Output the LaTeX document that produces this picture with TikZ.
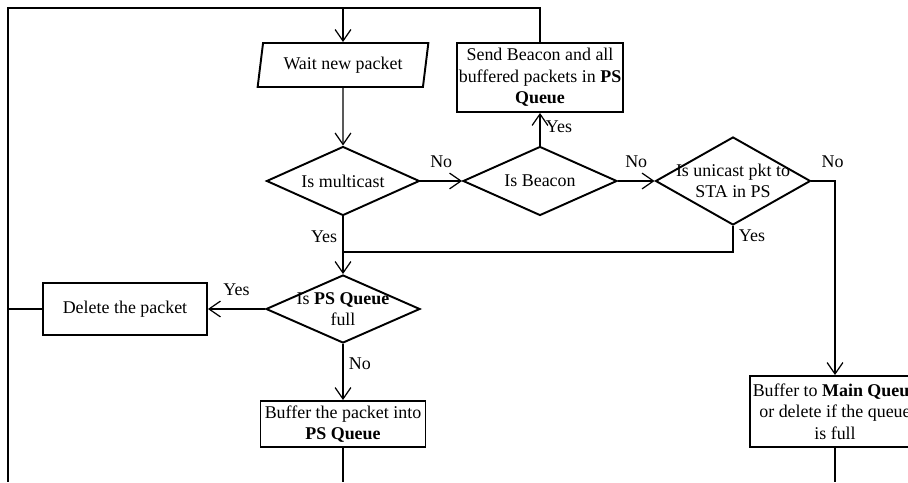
\documentclass[tikz,border=0pt]{standalone}
\usepackage{fontspec}
\setmainfont{Liberation Serif}
\usetikzlibrary{shapes.geometric,arrows.meta}

\begin{document}
\begin{tikzpicture}[every node/.style={font=\fontsize{10.2}{12.2}\selectfont},
  process/.style={draw, line width=1.1pt, minimum width=3.3cm, minimum height=0.92cm, align=center, inner sep=1pt},
  decision/.style={diamond, draw, line width=1.1pt, inner sep=0pt},
  io/.style={trapezium, trapezium left angle=81, trapezium right angle=99, trapezium stretches=true, draw, line width=1.1pt, minimum width=3.44cm, minimum height=0.88cm},
  flow/.style={line width=0.7pt, -{Straight Barb[length=6.5pt,width=9pt]}},
  link/.style={line width=0.7pt},
  tag/.style={inner sep=3pt}]
\clip (0,0) rectangle (18.16,9.64);

\node[io] (wait) at (6.86,8.34) {Wait new packet};
\node[decision, minimum width=3.06cm, minimum height=1.38cm, label={center:Is multicast}] (mcast) at (6.86,6.02) {};
\node[decision, minimum width=3.08cm, minimum height=1.38cm, label={center:Is Beacon}] (beacon) at (10.80,6.02) {};
\node[decision, minimum width=3.1cm, minimum height=1.76cm, label={[align=center]center:Is unicast pkt to\\STA in PS}] (ucast) at (14.66,6.02) {};
\node[decision, minimum width=3.08cm, minimum height=1.36cm, label={[align=center]center:Is \textbf{PS Queue}\\full}] (psfull) at (6.86,3.46) {};

\node[process, minimum width=3.32cm, minimum height=1.38cm] (send) at (10.80,8.09) {Send Beacon and all\\buffered packets in \textbf{PS}\\\textbf{Queue}};
\node[process, minimum width=3.28cm, minimum height=1.04cm] (delete) at (2.50,3.46) {Delete the packet};
\node[process] (buffer) at (6.86,1.16) {Buffer the packet into\\\textbf{PS Queue}};
\node[process, minimum width=3.4cm, minimum height=1.42cm] (mainq) at (16.70,1.41) {Buffer to \textbf{Main Queue}\\or delete if the queue\\is full};

\coordinate (tl) at (0.16,9.48);
\coordinate (bl) at (0.16,0);
\coordinate (join) at (6.86,4.60);

\draw[link] (send.north) |- (tl) -- (bl);
\draw[flow] (wait.north |- tl) -- (wait.north);
\draw[flow] (wait.south) -- (mcast.north);
\draw[flow] (mcast.east) -- node[tag, above=4pt] {No} (beacon.west);
\draw[flow] (beacon.north) -- node[tag, right, pos=0.57] {Yes} (send.south);
\draw[flow] (beacon.east) -- node[tag, above=4pt] {No} (ucast.west);
\draw[flow] (ucast.east) -| node[tag, pos=0.45, above=4pt] {No} (mainq.north);
\draw[link] (ucast.south) |- node[tag, right, pos=0.18] {Yes} (join);
\draw[flow] (mcast.south) -- node[tag, left, pos=0.36] {Yes} (psfull.north);
\draw[flow] (psfull.west) -- node[tag, above=4pt] {Yes} (delete.east);
\draw[link] (delete.west) -- (delete.west -| bl);
\draw[flow] (psfull.south) -- node[tag, right, pos=0.35] {No} (buffer.north);
\draw[link] (buffer.south) -- (buffer.south |- bl);
\draw[link] (mainq.south) -- (mainq.south |- bl);
\end{tikzpicture}
\end{document}
